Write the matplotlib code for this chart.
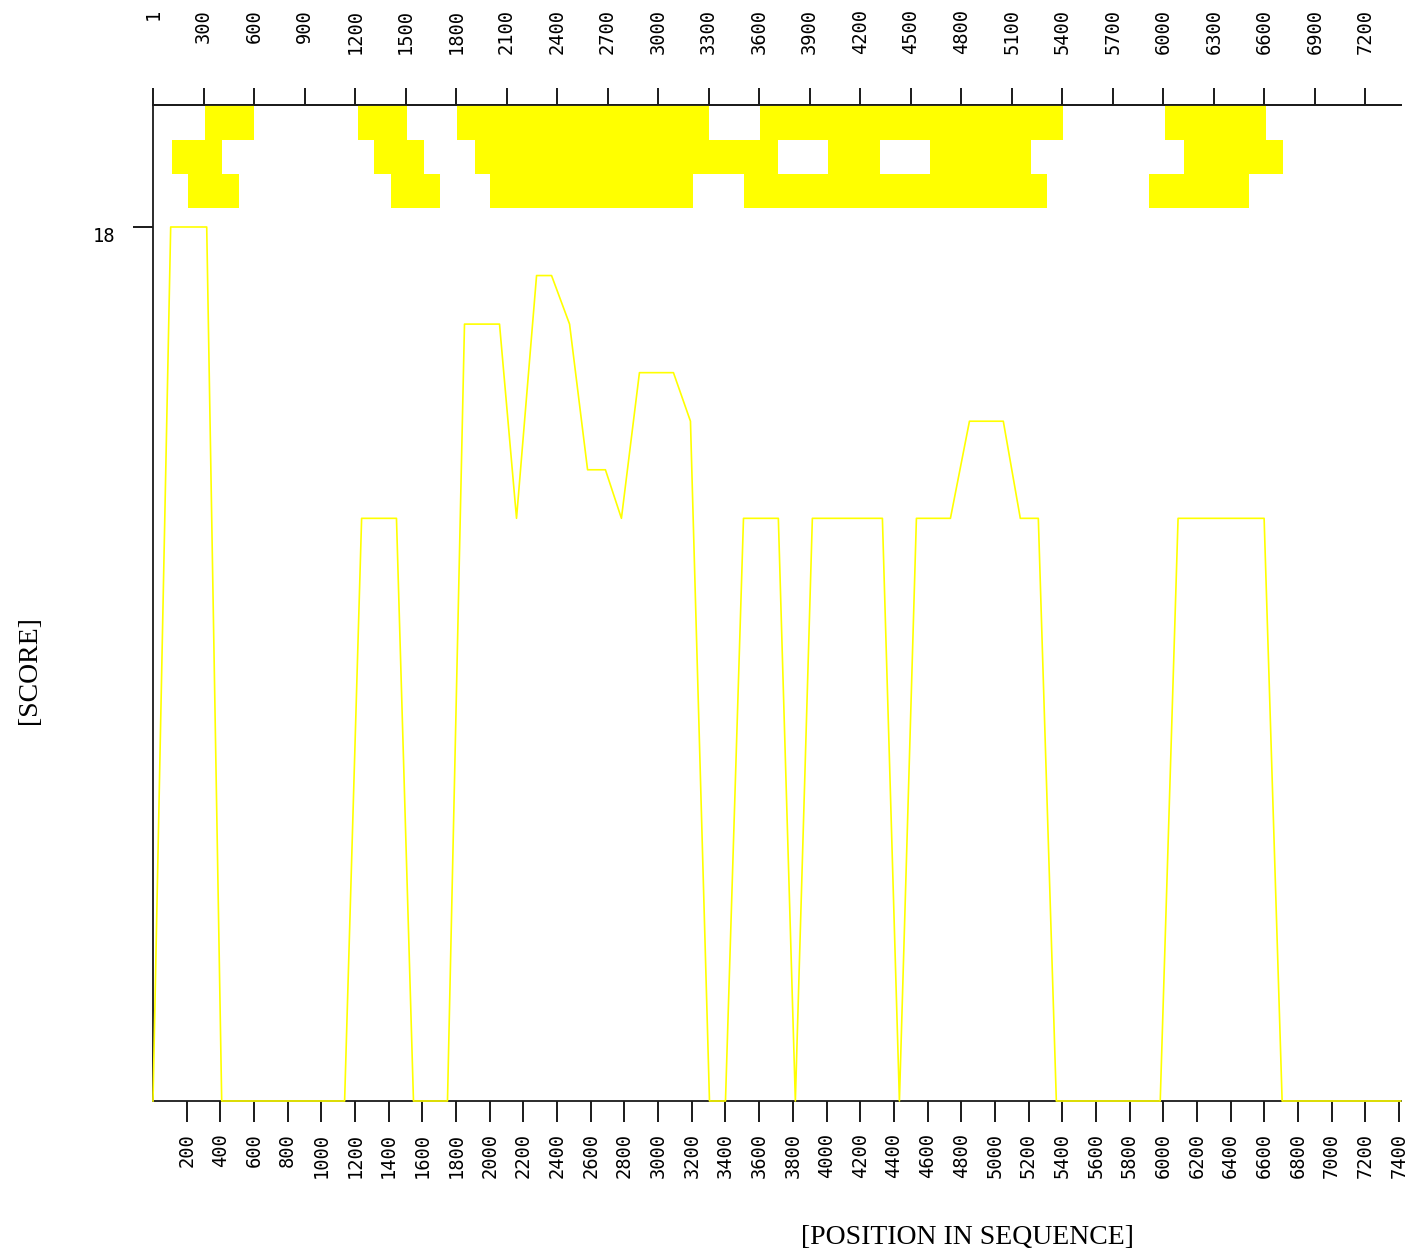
import matplotlib
matplotlib.use('Agg')
import matplotlib.pyplot as plt

# Score profile (position, score)
positions = [0, 105, 319, 408, 1138, 1239, 1446, 1547, 1749, 1850, 2058, 2159,
             2278, 2367, 2474, 2581, 2687, 2782, 2889, 3091, 3192, 3305, 3400, 3507,
             3714, 3815, 3916, 4332, 4433, 4534, 4736, 4849, 5050, 5151, 5258, 5365,
             5982, 6088, 6599, 6706, 7410]
scores = [0, 18, 18, 0, 0, 12, 12, 0, 0, 16, 16, 12,
          17, 17, 16, 13, 13, 12, 15, 15, 14, 0, 0, 12,
          12, 0, 12, 12, 0, 12, 12, 14, 14, 12, 12, 0,
          0, 12, 12, 0, 0]

# Blocks in the three rows at the top
frame1_start = [307, 1215, 1803, 3607, 6011]
frame1_end = [598, 1506, 3305, 5406, 6610]
frame2_start = [111, 1310, 1910, 4011, 4616, 6124]
frame2_end = [407, 1607, 3714, 4320, 5216, 6712]
frame3_start = [207, 1411, 2004, 3512, 5915]
frame3_end = [510, 1707, 3209, 5311, 6509]

bottom_ticks = list(range(200, 7401, 200))
top_ticks = [1] + list(range(300, 7201, 300))

W, H = 1411, 1259
fig = plt.figure(figsize=(W / 100, H / 100), dpi=100)
ax = fig.add_axes([153 / W, 1 - 1101 / H, (1401 - 153) / W, (1101 - 105) / H])

ymax = 996 / 48.556
ax.set_xlim(0, 7412)
ax.set_ylim(0, ymax)

yellow = '#ffff00'
ink = '#1a1a1a'
mono = 'DejaVu Sans Mono'
fs = 13.5

# top rows of blocks
rows = [(frame1_start, frame1_end, 19.79, ymax - 19.79),
        (frame2_start, frame2_end, 19.09, 0.70),
        (frame3_start, frame3_end, 18.39, 0.70)]
for starts, ends, y0, h in rows:
    ax.broken_barh([(s, e - s) for s, e in zip(starts, ends)], (y0, h),
                   facecolors=yellow, edgecolor='none', zorder=2)

ax.plot(positions, scores, color=yellow, lw=1.2, zorder=5, clip_on=False)

ax.spines['right'].set_visible(False)
for side in ['left', 'bottom', 'top']:
    ax.spines[side].set_linewidth(1.3)
    ax.spines[side].set_color(ink)

ax.set_xticks(bottom_ticks)
ax.set_xticklabels([str(t) for t in bottom_ticks], rotation=90,
                   fontfamily=mono, fontsize=fs)
ax.tick_params(axis='x', direction='out', length=15, width=1.4, color=ink, pad=8)

ax.set_yticks([18])
ax.set_yticklabels(['18'], fontfamily=mono, fontsize=fs, va='top')
ax.tick_params(axis='y', direction='out', length=14.4, width=1.4, color=ink, pad=13)

secax = ax.secondary_xaxis('top')
secax.set_xticks(top_ticks)
secax.set_xticklabels([str(t) for t in top_ticks], rotation=90,
                      fontfamily=mono, fontsize=fs, va='top')
secax.tick_params(direction='out', length=12.2, width=1.4, color=ink, pad=57)
secax.spines['top'].set_linewidth(1.3)
secax.spines['top'].set_color(ink)

fig.text(967 / W, 1 - 1237 / H, '[POSITION IN SEQUENCE]', ha='center', va='center',
         fontfamily='Liberation Serif', fontsize=20)
fig.text(29 / W, 1 - 670 / H, '[SCORE]', ha='center', va='center', rotation=90,
         fontfamily='Liberation Serif', fontsize=20)

fig.savefig('out.png', dpi=100, facecolor='white')
